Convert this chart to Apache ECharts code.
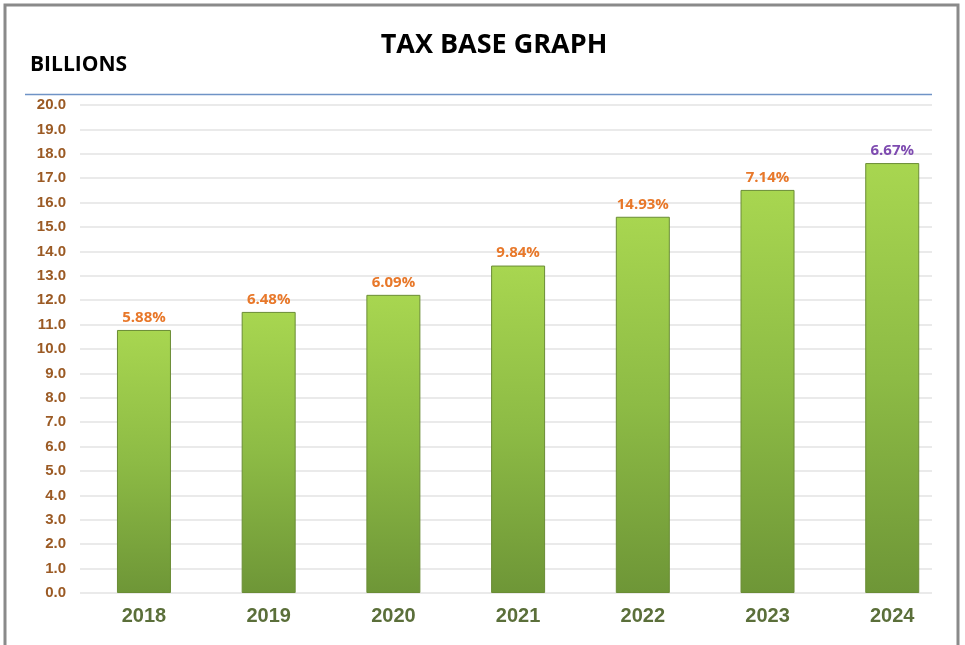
<!DOCTYPE html>
<html>
<head>
<meta charset="utf-8">
<script src="https://cdn.jsdelivr.net/npm/echarts@6/dist/echarts.min.js"></script>
<style>
html,body{margin:0;padding:0;background:#fff;}
#chart{width:965px;height:645px;}
</style>
</head>
<body>
<div id="chart"></div>
<script>
const years = ['2018','2019','2020','2021','2022','2023','2024'];
const taxBase = [10.78, 11.52, 12.22, 13.42, 15.42, 16.52, 17.62];
const growthLabels = ['5.88%','6.48%','6.09%','9.84%','14.93%','7.14%','6.67%'];
const labelColors = ['#E8782A','#E8782A','#E8782A','#E8782A','#E8782A','#E8782A','#7E4BB0'];
const yMin = 0, yMax = 20, yStep = 1;

const chart = echarts.init(document.getElementById('chart'));
const narrow = '"Liberation Sans Narrow", "Arial Narrow", "Liberation Sans", Arial, sans-serif';
const option = {
  backgroundColor: '#fff',
  animation: false,
  title: [
    {text: 'TAX BASE GRAPH', left: 489, top: 27, textAlign: 'center',
     textStyle: {fontFamily: '"Open Sans", "Liberation Sans", sans-serif', fontWeight: 'bold', fontSize: 27, color: '#000'}},
    {text: 'BILLIONS', left: 25, top: 50,
     textStyle: {fontFamily: '"Open Sans", "Liberation Sans", sans-serif', fontWeight: 'bold', fontSize: 21, color: '#000'}}
  ],
  graphic: [
    {type: 'polyline', shape: {points: [[5, 645], [5, 5], [958, 5], [958, 645]]},
     style: {stroke: '#8a8a8a', lineWidth: 3, fill: null}},
    {type: 'line', shape: {x1: 25, y1: 94.5, x2: 932, y2: 94.5},
     style: {stroke: '#6f93c6', lineWidth: 1.5}}
  ],
  grid: [
    {left: 80, right: 33, top: 105, bottom: 52},
    {left: 81.6, right: 10.4, top: 105, bottom: 52}
  ],
  xAxis: [
    {type: 'category', gridIndex: 0, data: years, show: false},
    {type: 'category', gridIndex: 1, data: years,
     axisLine: {show: false}, axisTick: {show: false},
     axisLabel: {margin: 13, fontSize: 20, fontWeight: 'bold', color: '#5B6F3A', fontFamily: narrow}}
  ],
  yAxis: [
    {type: 'value', gridIndex: 0, min: yMin, max: yMax, interval: yStep,
     axisLine: {show: false}, axisTick: {show: false},
     axisLabel: {margin: 14, fontSize: 15, fontWeight: 'bold', color: '#9B5A24', fontFamily: narrow,
                 formatter: v => v.toFixed(1)},
     splitLine: {lineStyle: {color: '#e3e3e3', width: 1.5}}},
    {type: 'value', gridIndex: 1, min: yMin, max: yMax, interval: yStep, show: false, splitLine: {show: false}}
  ],
  series: [{
    type: 'bar', xAxisIndex: 1, yAxisIndex: 1,
    data: taxBase.map((v, i) => ({
      value: v,
      label: {formatter: growthLabels[i], color: labelColors[i]}
    })),
    barWidth: 54,
    itemStyle: {
      color: {type: 'linear', x: 0, y: 0, x2: 0, y2: 1, colorStops: [
        {offset: 0, color: '#A8D650'}, {offset: 0.5, color: '#8DBB45'}, {offset: 1, color: '#6E9637'}]},
      borderColor: '#6A8C35', borderWidth: 1
    },
    label: {show: true, position: 'top', distance: 5, fontSize: 15, fontWeight: 'bold',
            fontFamily: '"Open Sans", "Liberation Sans", sans-serif'}
  }]
};
chart.setOption(option);
</script>
</body>
</html>
